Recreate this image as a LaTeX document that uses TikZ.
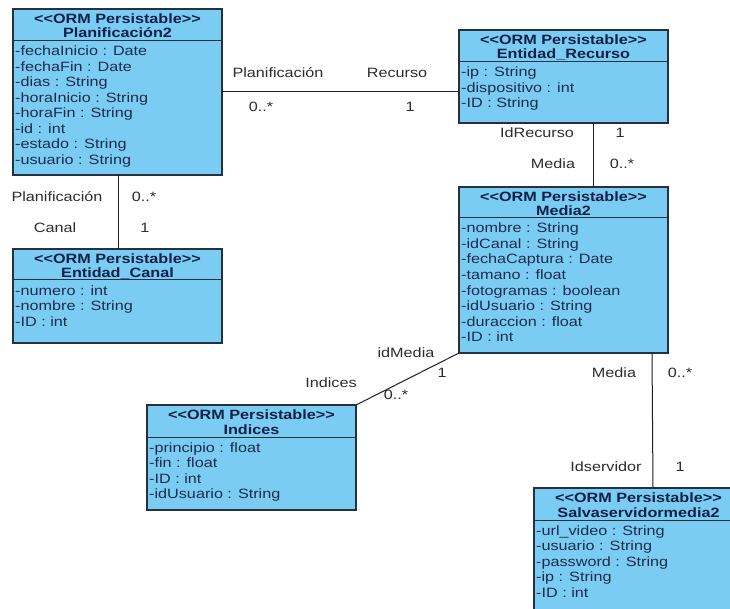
\documentclass[tikz,border=0pt]{standalone}
\usepackage{fontspec}
\setmainfont{Liberation Sans}[FakeStretch=1.2]

\definecolor{classfill}{RGB}{122,204,242}
\definecolor{classborder}{RGB}{38,48,62}
\definecolor{headink}{RGB}{16,32,72}
\definecolor{attrink}{RGB}{28,44,78}
\definecolor{labelink}{RGB}{45,45,45}
\definecolor{lineink}{RGB}{30,30,30}

\tikzset{
  classbox/.style={draw=classborder, fill=classfill, line width=1.1pt, inner sep=0pt, outer sep=0pt},
  classline/.style={draw=classborder, line width=1pt},
  headtext/.style={anchor=base, inner sep=0pt, text=headink, font=\fontsize{13.5}{15.5}\selectfont\bfseries},
  attrtext/.style={anchor=base west, inner sep=0pt, text=attrink, font=\fontsize{13.5}{15.5}\selectfont},
  assoc/.style={draw=lineink, line width=1pt},
  rolelabel/.style={inner sep=0pt, text=labelink, font=\fontsize{13.5}{15.5}\selectfont},
}

% #1 name, #2 top-left corner, #3 width, #4 height, #5 header height,
% #6 class name, #7 attribute list
\newcommand\umlclass[7]{%
  \node[classbox, minimum width=#3, minimum height=#4, anchor=north west] (#1) at #2 {};
  \draw[classline] ([yshift=-#5]#1.north west) -- ([yshift=-#5]#1.north east);
  \node[headtext] (#1-stereo) at ([yshift=-14.5pt]#1.north) {<{}<ORM Persistable>{}>};
  \node[headtext] (#1-title) at ([yshift=-29pt]#1.north) {#6};
  \foreach \a [count=\i] in {#7} {
    \node[attrtext] (#1-attr\i) at ([xshift=2pt, yshift=-#5-15pt-(\i-1)*15.5pt]#1.north west) {\a};
  }%
}

\begin{document}
\begin{tikzpicture}[x=1pt, y=-1pt]
\useasboundingbox (0,0) rectangle (730,609);
\fill[white] (0,0) rectangle (730,609);
\clip (0,0) rectangle (730,609);

% classes
\umlclass{plan}{(13,9)}{209pt}{166pt}{32pt}{Planificación2}
  {-fechaInicio : Date, -fechaFin : Date, -dias : String, -horaInicio : String,
   -horaFin : String, -id : int, -estado : String, -usuario : String}
\umlclass{rec}{(459,30)}{209pt}{93pt}{32pt}{Entidad\_Recurso}
  {-ip : String, -dispositivo : int, -ID : String}
\umlclass{canal}{(13,249)}{209pt}{94pt}{31pt}{Entidad\_Canal}
  {-numero : int, -nombre : String, -ID : int}
\umlclass{media}{(459,187)}{209pt}{166pt}{31pt}{Media2}
  {-nombre : String, -idCanal : String, -fechaCaptura : Date, -tamano : float,
   -fotogramas : boolean, -idUsuario : String, -duraccion : float, -ID : int}
\umlclass{indices}{(147,405)}{209pt}{105pt}{32pt}{Indices}
  {-principio : float, -fin : float, -ID : int, -idUsuario : String}
\umlclass{salva}{(534,488)}{209pt}{124pt}{32pt}{Salvaservidormedia2}
  {-url\_video : String, -usuario : String, -password : String, -ip : String, -ID : int}

% associations
\draw[assoc] (plan.east) -- (plan.east -| rec.west);
\draw[assoc] ([xshift=134pt]rec.south west) -- ([xshift=134pt]media.north west);
\draw[assoc] ([xshift=105pt]plan.south west) -- ([xshift=105pt]canal.north west);
\draw[assoc] (indices.north east) -- (media.south west);
\draw[assoc] ([xshift=193pt]media.south west) -- ([xshift=119pt]salva.north west);

% role names and multiplicities
\node[rolelabel] (pr-role1) at (278,73) {Planificación};
\node[rolelabel] (pr-role2) at (397,73) {Recurso};
\node[rolelabel] (pr-mult1) at (261,107) {0..*};
\node[rolelabel] (pr-mult2) at (410,107) {1};

\node[rolelabel] (rm-role1) at (537,133) {IdRecurso};
\node[rolelabel] (rm-mult1) at (620,133) {1};
\node[rolelabel] (rm-role2) at (553,164) {Media};
\node[rolelabel] (rm-mult2) at (622,164) {0..*};

\node[rolelabel] (pc-role1) at (57,197) {Planificación};
\node[rolelabel] (pc-mult1) at (144,197) {0..*};
\node[rolelabel] (pc-role2) at (55,228) {Canal};
\node[rolelabel] (pc-mult2) at (145,228) {1};

\node[rolelabel] (mi-role1) at (406,353) {idMedia};
\node[rolelabel] (mi-mult1) at (442,373) {1};
\node[rolelabel] (mi-role2) at (331,383) {Indices};
\node[rolelabel] (mi-mult2) at (396,395) {0..*};

\node[rolelabel] (ms-role1) at (614,373) {Media};
\node[rolelabel] (ms-mult1) at (680,373) {0..*};
\node[rolelabel] (ms-role2) at (606,467) {Idservidor};
\node[rolelabel] (ms-mult2) at (680,467) {1};
\end{tikzpicture}
\end{document}
